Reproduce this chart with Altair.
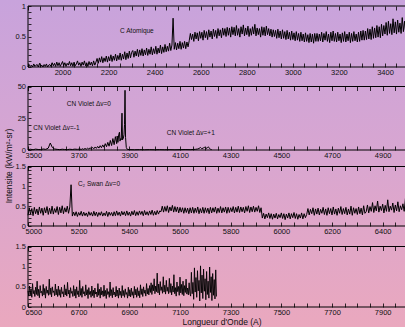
import altair as alt
import pandas as pd

W, H = 405, 327
XL, XR = 28, 408
FONT = "Liberation Sans"

# ---------------- data ----------------
# Panel 1 : 1850-3500 A, one value every 5 A
p1_start, p1_step = 1850, 5
p1_vals = [
    0.00, 0.04, 0.01, 0.03, 0.00, 0.05, 0.01, 0.03, 0.04, 0.00, 0.06, 0.01, 0.03, 0.00, 0.04, 0.01, 0.05, 0.00, 0.03, 0.04,
    0.01, 0.07, 0.02, 0.06, 0.01, 0.08, 0.02, 0.07, 0.01, 0.05, 0.09, 0.02, 0.07, 0.01, 0.06, 0.03, 0.09, 0.02, 0.07, 0.01,
    0.08, 0.02, 0.05, 0.10, 0.03, 0.07, 0.01, 0.08, 0.03, 0.10, 0.02, 0.07, 0.01, 0.09, 0.03, 0.08, 0.02, 0.10, 0.03, 0.08,
    0.14, 0.06, 0.15, 0.08, 0.17, 0.07, 0.15, 0.09, 0.18, 0.08, 0.17, 0.10, 0.20, 0.09, 0.18, 0.11, 0.21, 0.10, 0.19, 0.12,
    0.23, 0.11, 0.21, 0.13, 0.25, 0.12, 0.23, 0.14, 0.26, 0.15, 0.24,
    0.27, 0.16, 0.26, 0.18, 0.29, 0.17, 0.28, 0.19, 0.30, 0.18, 0.28, 0.20, 0.31, 0.19, 0.29, 0.21, 0.33, 0.20, 0.30, 0.22,
    0.34, 0.21, 0.31, 0.23, 0.36, 0.22, 0.33, 0.24, 0.37, 0.25, 0.34, 0.26, 0.39, 0.27, 0.36,
    0.80,
    0.29, 0.40, 0.28, 0.39, 0.30, 0.42, 0.29, 0.40, 0.31, 0.42, 0.30, 0.41, 0.33,
    0.43, 0.55, 0.45, 0.54, 0.42, 0.57, 0.46, 0.56, 0.43, 0.58, 0.47, 0.57, 0.44, 0.60, 0.48, 0.58, 0.45, 0.61, 0.49, 0.59,
    0.46, 0.62, 0.50, 0.60, 0.47, 0.63, 0.51, 0.61, 0.48, 0.64, 0.52,
    0.63, 0.50, 0.65, 0.52, 0.64, 0.49, 0.66, 0.53, 0.65, 0.51, 0.68, 0.52, 0.63, 0.49, 0.66, 0.54, 0.69, 0.51, 0.64, 0.53,
    0.67, 0.50, 0.63, 0.52, 0.66, 0.54, 0.70, 0.51, 0.64, 0.53, 0.63, 0.49, 0.66, 0.52, 0.65, 0.51, 0.67, 0.53, 0.63, 0.51,
    0.62, 0.49, 0.61, 0.50, 0.60, 0.47, 0.62, 0.48, 0.59, 0.46, 0.61, 0.47, 0.58, 0.45, 0.60, 0.46, 0.57, 0.44, 0.59, 0.45,
    0.56, 0.43, 0.58, 0.44, 0.55, 0.42, 0.57, 0.43, 0.54, 0.41, 0.56, 0.42, 0.53, 0.40, 0.55, 0.41, 0.54, 0.39, 0.55, 0.42,
    0.55, 0.42, 0.54, 0.43, 0.57, 0.41, 0.55, 0.44, 0.58, 0.42, 0.54, 0.40, 0.57, 0.43, 0.59, 0.42, 0.55, 0.41, 0.57, 0.43,
    0.54, 0.40, 0.56, 0.42, 0.58, 0.41, 0.54, 0.43, 0.57, 0.40, 0.55, 0.42, 0.58, 0.43, 0.54, 0.41, 0.57, 0.42, 0.59, 0.44,
    0.60, 0.44, 0.59, 0.45, 0.63, 0.46, 0.62, 0.45, 0.66, 0.47, 0.64, 0.48, 0.68, 0.49, 0.66, 0.48, 0.70, 0.51, 0.68,
    0.54, 0.73, 0.52, 0.75, 0.55, 0.71, 0.53, 0.79, 0.56, 0.74, 0.54, 0.77, 0.57, 0.72, 0.55, 0.81, 0.58, 0.75, 0.56, 0.78,
    0.60,
]

# Panel 2 : CN violet system (explicit wavelengths)
p2_x = [
    3500, 3510, 3520, 3530, 3540, 3550, 3560, 3570, 3580, 3588, 3596, 3605, 3615, 3625,
    3635, 3645, 3655, 3665, 3675, 3685, 3695,
    3705, 3710, 3715, 3720, 3725, 3730, 3735, 3740, 3745, 3750, 3755, 3760, 3765, 3770,
    3775, 3780, 3785, 3790, 3795, 3800, 3805, 3810, 3815, 3820, 3825, 3830, 3835, 3840,
    3845, 3850,
    3852, 3855, 3858, 3861, 3863, 3866, 3868, 3871, 3873, 3876, 3879, 3881, 3883, 3885,
    3888, 3892, 3900,
    3920, 3940, 3960, 3980, 4000, 4020, 4040, 4060, 4080, 4100, 4120, 4140, 4160, 4170,
    4175, 4181, 4186, 4192, 4197, 4202, 4208, 4212, 4216, 4220, 4225,
]
p2_vals = [
    0.3, 0.6, 0.2, 0.7, 0.4, 0.3, 0.8, 0.5, 1.5, 5.5, 2.0, 0.8, 0.5, 0.3,
    0.6, 0.4, 0.3, 0.6, 0.4, 0.7, 0.5,
    0.8, 0.4, 1.0, 0.5, 1.2, 0.6, 1.4, 0.8, 1.7, 0.9, 2.0, 1.0, 2.4, 1.3,
    2.8, 1.5, 3.4, 1.8, 4.0, 2.2, 5.0, 2.6, 6.0, 3.0, 7.5, 3.5, 9.0, 4.2,
    10.5, 5.0,
    11.0, 6.0, 12.0, 14.0, 7.0, 9.0, 8.0, 29.0, 8.0, 9.0, 12.0, 20.0, 47.0, 10.0,
    2.0, 0.5, 0.3,
    0.2, 0.3, 0.2, 0.3, 0.2, 0.3, 0.2, 0.3, 0.2, 0.3, 0.4, 0.3, 0.5, 0.8,
    1.2, 2.0, 1.0, 1.6, 2.2, 1.2, 1.8, 2.5, 1.4, 0.6, 0.3,
]

# Panel 3 : 5000-6500 A, one value every 5 A
p3_start, p3_step = 5000, 5
p3_vals = [
    0.27, 0.46, 0.30, 0.44, 0.26, 0.47, 0.31, 0.43, 0.28, 0.48, 0.32, 0.45, 0.27, 0.46, 0.33, 0.49, 0.29, 0.45, 0.31, 0.50,
    0.30, 0.44, 0.34, 0.49, 0.29, 0.47, 0.33, 0.51, 0.31, 0.46, 0.35, 0.50, 0.32, 0.48,
    1.04,
    0.25, 0.35, 0.26, 0.36, 0.24, 0.34, 0.27, 0.37, 0.25, 0.35, 0.26, 0.33, 0.24, 0.36, 0.27, 0.34, 0.25, 0.37, 0.26, 0.35,
    0.24, 0.34, 0.27, 0.36, 0.25, 0.33, 0.26, 0.37, 0.24, 0.35, 0.27, 0.34, 0.25, 0.36, 0.26, 0.38, 0.27, 0.35, 0.25, 0.37,
    0.28, 0.36, 0.26, 0.38, 0.27, 0.35, 0.25, 0.37, 0.28, 0.39, 0.26, 0.36, 0.27, 0.38, 0.29, 0.37, 0.26, 0.39, 0.28, 0.36,
    0.27, 0.38, 0.29, 0.40, 0.27, 0.37, 0.28, 0.39, 0.30, 0.38,
    0.36, 0.50, 0.35, 0.49, 0.37, 0.51, 0.34, 0.48, 0.38, 0.52, 0.35, 0.49, 0.36, 0.48, 0.33, 0.47, 0.35, 0.46, 0.32, 0.46,
    0.34, 0.45, 0.31, 0.46, 0.33, 0.47, 0.32, 0.45, 0.34, 0.48, 0.31, 0.44, 0.33, 0.47, 0.32, 0.46, 0.34, 0.45, 0.31, 0.47,
    0.33, 0.46, 0.35, 0.48, 0.32, 0.45, 0.34, 0.49, 0.33, 0.46, 0.35, 0.48, 0.32, 0.47, 0.34, 0.46, 0.36, 0.49, 0.33, 0.47,
    0.35, 0.50, 0.34, 0.48, 0.36, 0.47, 0.33, 0.49, 0.37, 0.51, 0.34, 0.48, 0.36, 0.50, 0.35, 0.47, 0.37, 0.51, 0.34, 0.46,
    0.20, 0.32, 0.18, 0.30, 0.21, 0.33, 0.19, 0.31, 0.17, 0.30, 0.20, 0.32, 0.18, 0.29, 0.21, 0.33, 0.19, 0.31, 0.16, 0.30,
    0.20, 0.33, 0.18, 0.31, 0.21, 0.34, 0.19, 0.31, 0.17, 0.29, 0.20, 0.33, 0.18, 0.31, 0.21,
    0.29, 0.44, 0.28, 0.42, 0.31, 0.46, 0.27, 0.43, 0.30, 0.45, 0.28, 0.42, 0.32, 0.47, 0.29, 0.43, 0.27, 0.46, 0.31, 0.44,
    0.28, 0.48, 0.30, 0.43, 0.27, 0.45, 0.32, 0.49, 0.29, 0.44, 0.31, 0.47, 0.28, 0.43, 0.30, 0.50, 0.27, 0.46, 0.32, 0.44,
    0.29, 0.48, 0.31, 0.45, 0.28, 0.51, 0.32,
    0.36, 0.53, 0.33, 0.49, 0.37, 0.59, 0.34, 0.51, 0.38, 0.63, 0.35, 0.50, 0.39, 0.55, 0.33, 0.52, 0.37, 0.66, 0.36, 0.50,
    0.40, 0.58, 0.34, 0.53, 0.38, 0.61, 0.36, 0.51, 0.41, 0.56, 0.37, 0.70, 0.39, 0.53,
]

# Panel 4 : 6500-7244 A, one value every 3 A
p4_start, p4_step = 6500, 3
p4_vals = [
    0.40, 0.27, 0.52, 0.30, 0.45, 0.24, 0.58, 0.33, 0.41, 0.26, 0.49, 0.31, 0.64, 0.28, 0.44, 0.23, 0.53, 0.35, 0.39, 0.27,
    0.56, 0.30, 0.46, 0.22, 0.51, 0.34, 0.42, 0.29, 0.69, 0.31, 0.47, 0.25, 0.50, 0.36, 0.40, 0.28, 0.57, 0.30, 0.44, 0.26,
    0.52, 0.29, 0.43, 0.24, 0.49, 0.33, 0.38, 0.25, 0.55, 0.30, 0.45, 0.27, 0.61, 0.32, 0.42, 0.23, 0.48, 0.34, 0.39, 0.26,
    0.53, 0.28, 0.44, 0.22, 0.50, 0.31, 0.40, 0.25, 0.66, 0.29, 0.46, 0.24, 0.51, 0.33, 0.38, 0.27, 0.55, 0.30, 0.43, 0.21,
    0.48, 0.31, 0.39, 0.24, 0.52, 0.28, 0.42, 0.23, 0.47, 0.32, 0.37, 0.25, 0.58, 0.29, 0.44, 0.22, 0.49, 0.30, 0.40, 0.26,
    0.54, 0.27, 0.41, 0.21, 0.46, 0.31, 0.38, 0.24, 0.62, 0.28, 0.43, 0.23, 0.48, 0.30, 0.37, 0.25, 0.51, 0.27, 0.42, 0.22,
    0.47, 0.29, 0.39, 0.23, 0.53, 0.28, 0.41, 0.24, 0.45, 0.31, 0.36, 0.22, 0.49, 0.27,
    0.43, 0.25, 0.47, 0.29, 0.38, 0.22, 0.51, 0.30, 0.44, 0.24, 0.48, 0.28, 0.40, 0.23, 0.55, 0.31, 0.45, 0.26, 0.50, 0.34,
    0.42, 0.27, 0.58, 0.32, 0.46, 0.30, 0.53,
    0.36, 0.60, 0.31, 0.55, 0.40, 0.70, 0.33, 0.52, 0.38, 0.84, 0.35, 0.57, 0.30, 0.63, 0.41, 0.50, 0.34, 0.75, 0.37, 0.54,
    0.32, 0.66, 0.39, 0.49, 0.33, 0.71, 0.36,
    0.58, 0.30, 0.52, 0.37, 0.80, 0.33, 0.48, 0.27, 0.62, 0.38, 0.51, 0.29, 0.74, 0.35, 0.56, 0.31, 0.64, 0.28, 0.53, 0.36,
    0.69, 0.32, 0.47, 0.30, 0.60, 0.34,
    0.27, 0.86, 0.33, 0.61, 0.19, 0.97, 0.37, 0.73, 0.24, 0.90, 0.40, 0.66, 0.15, 1.02, 0.35, 0.79, 0.21, 0.94, 0.39, 0.70,
    0.18, 0.88, 0.31, 0.64, 0.22, 0.99, 0.36, 0.75, 0.16, 0.83, 0.29, 0.68, 0.20, 0.92, 0.26,
]

# axis domains / ticks / labels
p1_xdom, p2_xdom, p3_xdom, p4_xdom = [1850, 3500], [3500, 5000], [5000, 6500], [6500, 8000]
p1_xticks = list(range(1850, 3501, 50))
p1_xlabels = list(range(2000, 3401, 200))
p2_xticks = list(range(3500, 5001, 50))
p2_xlabels = list(range(3500, 4901, 200))
p3_xticks = list(range(5000, 6501, 50))
p3_xlabels = list(range(5000, 6401, 200))
p4_xticks = list(range(6500, 8001, 50))
p4_xlabels = list(range(6500, 7901, 200))

p1_ydom, p2_ydom, p3_ydom, p4_ydom = [0, 1], [0, 50], [0, 1.5], [0, 1.5]
p1_yticks = [round(i * 0.1, 1) for i in range(11)]
p1_ylabels = [0, 0.5, 1]
p2_yticks = list(range(0, 51, 5))
p2_ylabels = [0, 25, 50]
p34_yticks = [round(i * 0.1, 1) for i in range(16)]
p34_ylabels = [0, 0.5, 1, 1.5]

# annotations (wavelength, intensity, text)
p1_notes = {"x": [2250], "y": [0.59], "t": ["C Atomique"]}
p2_notes = {"x": [3653, 3521, 4048], "y": [36.2, 17.3, 13.4],
            "t": ["CN Violet \u0394v=0", "CN Violet \u0394v=-1", "CN Violet \u0394v=+1"]}
p3_notes = {"x": [5197], "y": [1.07], "t": ["C\u2082 Swan \u0394v=0"]}

Y_TITLE = "Intensite (kW/m\u00b2-sr)"
X_TITLE = "Longueur d'Onde (A)"

# panel pixel bands (top, bottom)
P1_Y = (6, 67)
P2_Y = (86.5, 150)
P3_Y = (166.5, 226)
P4_Y = (246.5, 307)
TX, TY = 4, 3


def lab_expr(vals):
    return "indexof([" + ",".join(str(v) for v in vals) + "], datum.value) >= 0 ? datum.label : ''"


def panel(df, xdom, ydom, band, xticks, xlabels, yticks, ylabels, notes=None, sw=1.0):
    ytop, ybot = band
    xs = alt.Scale(domain=xdom, range=[XL, XR], nice=False, zero=False)
    ys = alt.Scale(domain=ydom, range=[ybot, ytop], nice=False, zero=False)
    common = dict(zindex=2, domain=False, grid=False, title="", tickColor="black",
                  tickWidth=0.8, labelFont=FONT, labelFontSize=7.5, labelColor="#111")
    line = alt.Chart(df).mark_line(color="black", strokeWidth=sw).encode(
        x=alt.X("x:Q", scale=xs, axis=alt.Axis(
            orient="bottom", values=xticks, format="d", labelExpr=lab_expr(xlabels),
            offset=(ybot - TX) - H, tickSize=TX, labelPadding=1.5,
            labelOverlap=False, labelFlushOffset=3, **common)),
        y=alt.Y("y:Q", scale=ys, axis=alt.Axis(
            orient="left", values=yticks, format="~g", labelExpr=lab_expr(ylabels),
            offset=-(XL + TY), tickSize=TY, labelPadding=2.5,
            labelOverlap=False, **common)),
    )
    fr = pd.DataFrame({"x": [xdom[0]], "x2": [xdom[1]], "y": [ydom[0]], "y2": [ydom[1]]})
    frame = alt.Chart(fr).mark_rect(filled=False, stroke="black", strokeWidth=1).encode(
        x=alt.X("x:Q", scale=xs, axis=alt.Axis(
            orient="top", values=xticks, labels=False, offset=-(ytop + TX), tickSize=TX,
            **common)),
        x2="x2:Q",
        y=alt.Y("y:Q", scale=ys, axis=alt.Axis(
            orient="right", values=yticks, labels=False, offset=(XR - TY) - W, tickSize=TY,
            **common)),
        y2="y2:Q",
    )
    layers = [line, frame]
    if notes is not None:
        txt = alt.Chart(pd.DataFrame(notes)).mark_text(
            align="left", baseline="middle", font=FONT, fontSize=6.5, color="#111"
        ).encode(
            x=alt.X("x:Q", scale=xs, axis=None),
            y=alt.Y("y:Q", scale=ys, axis=None),
            text="t:N",
        )
        layers.append(txt)
    return alt.layer(*layers).resolve_axis(x="independent", y="independent")


df1 = pd.DataFrame({"x": [p1_start + p1_step * i for i in range(len(p1_vals))], "y": p1_vals})
df2 = pd.DataFrame({"x": p2_x, "y": p2_vals})
df3 = pd.DataFrame({"x": [p3_start + p3_step * i for i in range(len(p3_vals))], "y": p3_vals})
df4 = pd.DataFrame({"x": [p4_start + p4_step * i for i in range(len(p4_vals))], "y": p4_vals})

pan1 = panel(df1, p1_xdom, p1_ydom, P1_Y, p1_xticks, p1_xlabels, p1_yticks, p1_ylabels, p1_notes)
pan2 = panel(df2, p2_xdom, p2_ydom, P2_Y, p2_xticks, p2_xlabels, p2_yticks, p2_ylabels, p2_notes)
pan3 = panel(df3, p3_xdom, p3_ydom, P3_Y, p3_xticks, p3_xlabels, p34_yticks, p34_ylabels, p3_notes)
pan4 = panel(df4, p4_xdom, p4_ydom, P4_Y, p4_xticks, p4_xlabels, p34_yticks, p34_ylabels, sw=0.9)

grad = alt.LinearGradient(
    gradient="linear", x1=0, x2=0, y1=0, y2=1,
    stops=[
        alt.GradientStop(color="#c8a3dc", offset=0),
        alt.GradientStop(color="#d9a6d0", offset=0.5),
        alt.GradientStop(color="#eaa8be", offset=1),
    ],
)
bg = alt.Chart(pd.DataFrame({"a": [0]})).mark_rect(color=grad).encode(
    x=alt.value(0), x2=alt.value(W), y=alt.value(0), y2=alt.value(H)
)
ytitle = alt.Chart(pd.DataFrame({"t": [Y_TITLE]})).mark_text(
    angle=270, font=FONT, fontSize=8.5, color="#111"
).encode(x=alt.value(9), y=alt.value(166), text="t:N")
xtitle = alt.Chart(pd.DataFrame({"t": [X_TITLE]})).mark_text(
    font=FONT, fontSize=8.5, color="#111"
).encode(x=alt.value(222), y=alt.value(321.5), text="t:N")

chart = (
    alt.layer(bg, pan1, pan2, pan3, pan4, ytitle, xtitle)
    .resolve_scale(x="independent", y="independent")
    .properties(width=W, height=H, padding=0, autosize=alt.AutoSizeParams(type="none"))
    .configure_view(strokeWidth=0)
)

chart.save("out.html", embed_options={"renderer": "svg", "actions": False})
